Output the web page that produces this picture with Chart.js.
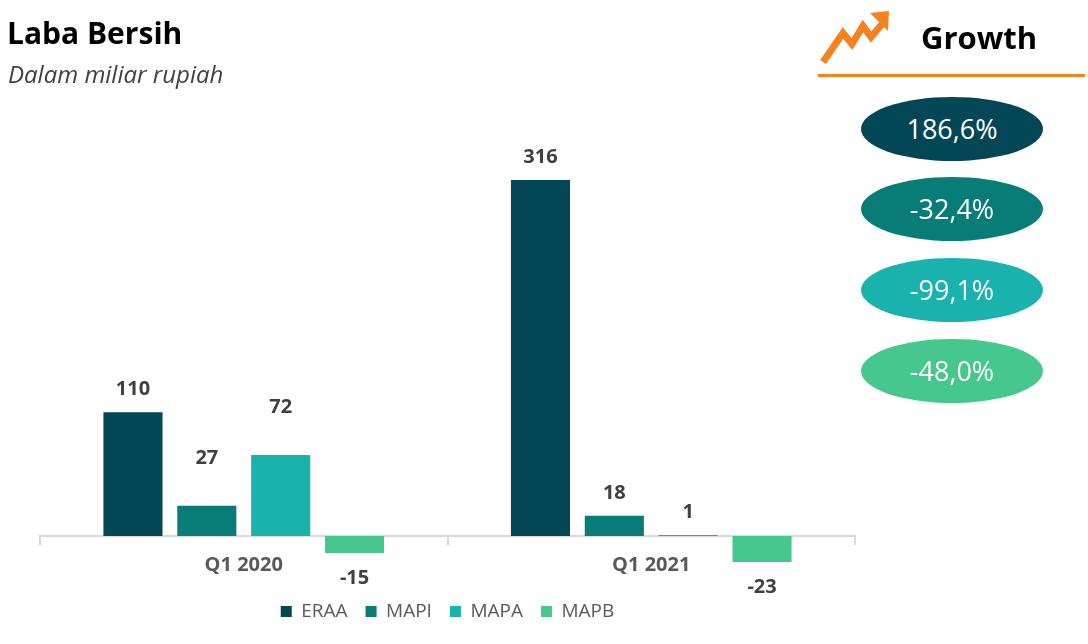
<!DOCTYPE html>
<html>
<head>
<meta charset="utf-8">
<script src="https://cdn.jsdelivr.net/npm/chart.js@4.4.1/dist/chart.umd.min.js"></script>
<style>
  body { margin: 0; background: #fff; font-family: "Open Sans", "Noto Sans", sans-serif; }
  #page { position: relative; width: 1088px; height: 644px; overflow: hidden; }
  #title { position: absolute; left: 7px; top: 12px; font-size: 30px; font-weight: 700; color: #000; }
  #subtitle { position: absolute; left: 8px; top: 57px; font-size: 24px; font-style: italic; color: #404040; }
  #chartBox { position: absolute; left: 0; top: 0; width: 895px; height: 644px; }
  #icon { position: absolute; left: 815px; top: 6px; }
  #growth { position: absolute; left: 921px; top: 16px; font-size: 31px; font-weight: 700; color: #000; }
  #rule { position: absolute; left: 818px; top: 74px; width: 267px; height: 3px; background: #f5811f; }
  .pill { position: absolute; left: 861px; width: 182px; height: 64px; border-radius: 50%;
          color: #fff; font-size: 27px; line-height: 64px; text-align: center; }
</style>
</head>
<body>
<div id="page">
  <div id="chartBox"><canvas id="c"></canvas></div>
  <div id="title">Laba Bersih</div>
  <div id="subtitle">Dalam miliar rupiah</div>
  <svg id="icon" width="80" height="64" viewBox="0 0 80 64">
    <polyline points="8,56 28,27 37,38 48,20 56,31 68,17" fill="none" stroke="#f5811f" stroke-width="7" stroke-linejoin="miter"/>
    <polygon points="55,7 74,5 73,25" fill="#f5811f"/>
  </svg>
  <div id="growth">Growth</div>
  <div id="rule"></div>
  <div id="pills"></div>
</div>
<script>
const quarters = ["Q1 2020", "Q1 2021"];
const companies = ["ERAA", "MAPI", "MAPA", "MAPB"];
const eraa = [110, 316];
const mapi = [27, 18];
const mapa = [72, 1];
const mapb = [-15, -23];
const growthLabels = ["186,6%", "-32,4%", "-99,1%", "-48,0%"];

const colors = ["#034655", "#087d78", "#19b2ad", "#45c78e"];
// extra lift for a few labels that sit higher in the original
const labelLift = [[0, 0], [24, 0], [25, 0], [0, 0]];

// growth pills
const pillTops = [97, 177, 258, 339];
let pills = document.getElementById("pills");
growthLabels.forEach((g, i) => {
    let d = document.createElement("div");
    d.className = "pill";
    d.style.top = pillTops[i] + "px";
    d.style.background = colors[i];
    d.textContent = g;
    pills.appendChild(d);
});

const valueLabels = {
    id: "valueLabels",
    afterDatasetsDraw(chart) {
        const ctx = chart.ctx;
        ctx.save();
        ctx.font = "bold 20px 'Open Sans', 'Noto Sans', sans-serif";
        ctx.fillStyle = "#404040";
        ctx.textAlign = "center";
        ctx.textBaseline = "middle";
        chart.data.datasets.forEach((ds, di) => {
            chart.getDatasetMeta(di).data.forEach((bar, i) => {
                let v = ds.data[i];
                let y = v >= 0 ? bar.y - 23 - labelLift[di][i] : bar.y + 25;
                ctx.fillText(String(v), bar.x, y);
            });
        });
        ctx.restore();
    }
};

const series = [eraa, mapi, mapa, mapb];

new Chart(document.getElementById("c"), {
    type: "bar",
    data: {
        labels: quarters,
        datasets: companies.map((name, i) => ({
            label: name,
            data: series[i],
            backgroundColor: colors[i],
            categoryPercentage: 0.725,
            barPercentage: 0.8
        }))
    },
    options: {
        responsive: true,
        maintainAspectRatio: false,
        animation: false,
        layout: { padding: { left: 40, right: 40, top: 153, bottom: 13 } },
        scales: {
            x: {
                position: { y: 0 },
                grid: { drawOnChartArea: false, color: "#d9d9d9", lineWidth: 2, tickLength: 8 },
                border: { color: "#d9d9d9", width: 2 },
                ticks: {
                    color: "#595959",
                    padding: 9,
                    font: { family: "'Open Sans', 'Noto Sans', sans-serif", size: 20, weight: "bold" }
                }
            },
            y: {
                display: false,
                min: -42.5,
                max: 340
            }
        },
        plugins: {
            legend: {
                position: "bottom",
                labels: {
                    boxWidth: 11,
                    boxHeight: 11,
                    padding: 18,
                    color: "#595959",
                    font: { family: "'Open Sans', 'Noto Sans', sans-serif", size: 19 }
                }
            },
            tooltip: { enabled: false }
        }
    },
    plugins: [valueLabels]
});
</script>
</body>
</html>
